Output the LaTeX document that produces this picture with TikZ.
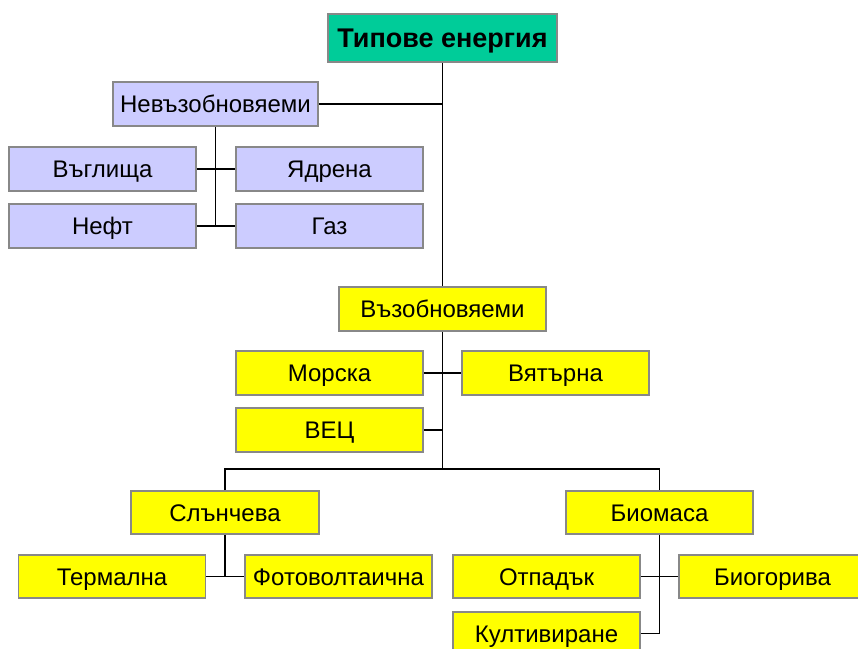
\documentclass[tikz,border=0pt]{standalone}
\usepackage{fontspec}
\setmainfont{Liberation Sans}
\usepackage{xcolor}
\usepackage{tikz}

\definecolor{rootgreen}{HTML}{00CC99}
\definecolor{lavender}{HTML}{CCCCFF}
\definecolor{boxyellow}{HTML}{FFFF00}
\definecolor{edgegray}{HTML}{888888}

\begin{document}
\begin{tikzpicture}[x=1pt, y=-1pt]
    % Styles
    \tikzstyle{box} = [rectangle, draw=edgegray, line width=1.6pt, minimum width=187pt, minimum height=44pt, inner sep=0pt, align=center, text height=17pt, text depth=0pt, font=\fontsize{24}{28}\selectfont]
    \tikzstyle{nonren} = [box, fill=lavender]
    \tikzstyle{ren} = [box, fill=boxyellow]
    \tikzstyle{line} = [line width=1.8pt, black]

    \useasboundingbox (0,0) rectangle (858,648);

    % Nodes
    \node[box, fill=rootgreen, minimum width=229pt, minimum height=48pt, text height=19pt, font=\fontsize{27}{31}\selectfont\bfseries] (types) at (442.5,38) {Типове енергия};

    \node[nonren, minimum width=205pt] (nonrenew) at (215.5,104) {Невъзобновяеми};
    \node[nonren] (coal) at (102.5,169) {Въглища};
    \node[nonren] (nuclear) at (329.5,169) {Ядрена};
    \node[nonren] (oil) at (102.5,226) {Нефт};
    \node[nonren] (gas) at (329.5,226) {Газ};

    \node[ren, minimum width=207pt] (renew) at (442.5,309) {Възобновяеми};
    \node[ren] (sea) at (329.5,373) {Морска};
    \node[ren] (wind) at (555.5,373) {Вятърна};
    \node[ren] (hydro) at (329.5,430) {ВЕЦ};

    \node[ren, minimum width=188pt, minimum height=43pt] (solar) at (225,512.5) {Слънчева};
    \node[ren, minimum height=43pt] (biomass) at (659.5,512.5) {Биомаса};
    \node[ren, minimum height=43pt] (thermal) at (112,576.5) {Термална};
    \node[ren, minimum height=43pt] (pv) at (338.5,576.5) {Фотоволтаична};
    \node[ren, minimum height=43pt] (waste) at (546.5,576.5) {Отпадък};
    \node[ren, minimum height=43pt] (biofuel) at (772.5,576.5) {Биогорива};
    \node[ren, minimum height=43pt] (cultiv) at (546.5,633.5) {Култивиране};

    % Lines
    \draw[line] (types.south) -- (renew.north);
    \draw[line] (nonrenew.east) -- (nonrenew.east -| types.south);
    \draw[line] (nonrenew.south) -- (nonrenew.south |- oil.east);
    \draw[line] (coal.east) -- (nuclear.west);
    \draw[line] (oil.east) -- (gas.west);

    \draw[line] (solar.north) -- ++(0,-21) coordinate (bus) -| (biomass.north);
    \draw[line] (renew.south) -- (renew.south |- bus);
    \draw[line] (sea.east) -- (wind.west);
    \draw[line] (hydro.east) -- (hydro.east -| renew.south);

    \draw[line] (solar.south) -- (solar.south |- thermal.east);
    \draw[line] (thermal.east) -- (pv.west);
    \draw[line] (biomass.south) -- (biomass.south |- cultiv.east);
    \draw[line] (waste.east) -- (biofuel.west);
    \draw[line] (cultiv.east) -- (cultiv.east -| biomass.south);

\end{tikzpicture}
\end{document}
